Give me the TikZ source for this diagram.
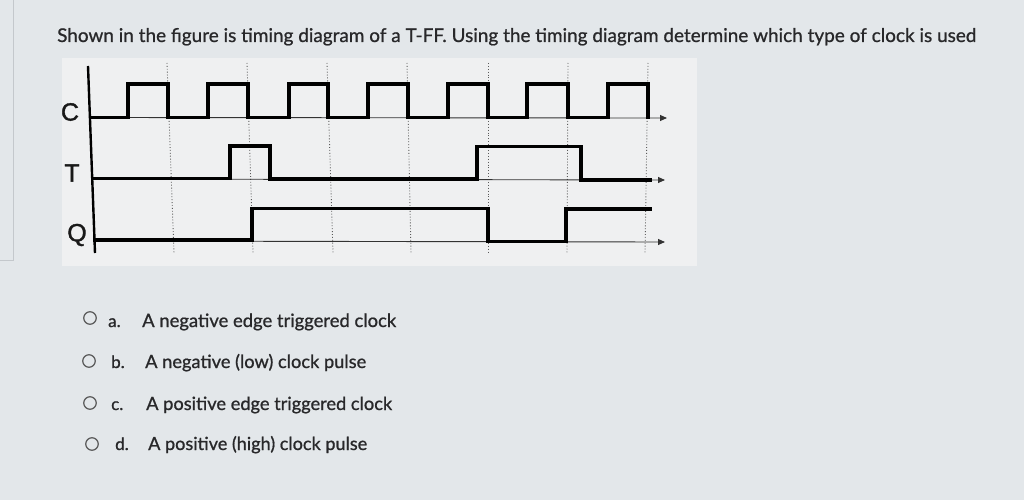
\documentclass[tikz,border=0pt]{standalone}
\usepackage{fontspec}
\setmainfont{Lato}[FakeBold=0.9]
\newfontfamily\lblfont{Liberation Sans}[FakeBold=1.4]
\usetikzlibrary{arrows.meta}
\definecolor{bgcol}{RGB}{227,231,234}
\definecolor{panelcol}{RGB}{239,240,241}
\definecolor{txtcol}{RGB}{40,40,42}
\definecolor{gridcol}{RGB}{90,90,90}
\definecolor{bordcol}{RGB}{196,200,204}
\tikzset{
  wave/.style={line width=3.8pt, line join=miter, line cap=butt, black},
  baseln/.style={line width=0.9pt, black!80, -{Triangle[length=7pt,width=6pt]}},
  gridln/.style={line width=0.9pt, gridcol, dotted},
  axisln/.style={line width=2.4pt, black},
  siglbl/.style={font=\lblfont\fontsize{25}{27}\selectfont, text=black!90, inner sep=0pt},
  opttxt/.style={font=\fontsize{17}{20}\selectfont, text=txtcol, inner sep=0pt, anchor=base west},
  radio/.style={draw=black!65, line width=1.2pt, circle, minimum size=12.5pt, inner sep=0pt}
}
\newcommand{\fitw}[2]{\resizebox{#1pt}{!}{#2}}
\begin{document}
\begin{tikzpicture}[x=1pt,y=-1pt]
\useasboundingbox (0,0) rectangle (1024,500);
\fill[bgcol] (0,0) rectangle (1024,500);
\fill[panelcol] (62,58) rectangle (697,266);
\draw[bordcol, line width=1pt] (13,0) -- (13,260) -- (0,260);

% title
\node[opttxt] (title) at (57,42) {\fitw{919}{Shown in the figure is timing diagram of a T-FF. Using the timing diagram determine which type of clock is used}};

% dotted grid lines
\foreach \xt/\xb in {167/174, 247/253, 327/333, 407/411, 488/488, 568/567, 648/645}
  \draw[gridln] (\xt,63) -- (\xb,253);

% baselines with arrows
\draw[baseln] (91,117.5) -- (667,118);
\draw[baseln] (92,179) -- (665,180);
\draw[baseln] (93,241) -- (665,242);

% axis
\draw[axisln] (88,66) -- (95,253);

% labels
\node[siglbl] (lc) at (70,112) {C};
\node[siglbl] (lt) at (72,173) {T};
\node[siglbl] (lq) at (77,235) {Q};

% clock
\draw[wave] (90,117.5)
  -- (128,117.5) -- (128,84) -- (168,84) -- (168,117.5)
  -- (208,117.5) -- (208,84) -- (248,84) -- (248,117.5)
  -- (289,117.5) -- (289,84) -- (328,84) -- (328,117.5)
  -- (368,117.5) -- (368,84) -- (408,84) -- (408,117.5)
  -- (448,117.5) -- (448,84) -- (488,84) -- (488,117.5)
  -- (527,117.5) -- (527,84) -- (568,84) -- (568,117.5)
  -- (608,117.5) -- (608,84) -- (648,84) -- (648,118.5);

% T
\draw[wave] (91,178.5)
  -- (230,178.5) -- (230,146) -- (270,146) -- (270,179)
  -- (477,179) -- (477,146.5) -- (581,146.5) -- (581,180)
  -- (652,180);

% Q
\draw[wave] (93,240)
  -- (252,240) -- (252,208.5) -- (488,208.5) -- (488,241.5)
  -- (566,241.5) -- (566,209) -- (652,209);

% options
\node[radio] (ra) at (90,318) {};
\node[radio] (rb) at (89,361) {};
\node[radio] (rc) at (90,403) {};
\node[radio] (rd) at (92,444) {};
\node[opttxt] (la) at (108,327) {a.};
\node[opttxt] (lb) at (111,368) {b.};
\node[opttxt] (lc2) at (111,410) {c.};
\node[opttxt] (ld) at (115,450) {d.};
\node[opttxt] (ta) at (142,327) {\fitw{254}{A negative edge triggered clock}};
\node[opttxt] (tb) at (145,368) {\fitw{221}{A negative (low) clock pulse}};
\node[opttxt] (tc) at (146,410) {\fitw{246}{A positive edge triggered clock}};
\node[opttxt] (td) at (148,450) {\fitw{219}{A positive (high) clock pulse}};
\end{tikzpicture}
\end{document}
